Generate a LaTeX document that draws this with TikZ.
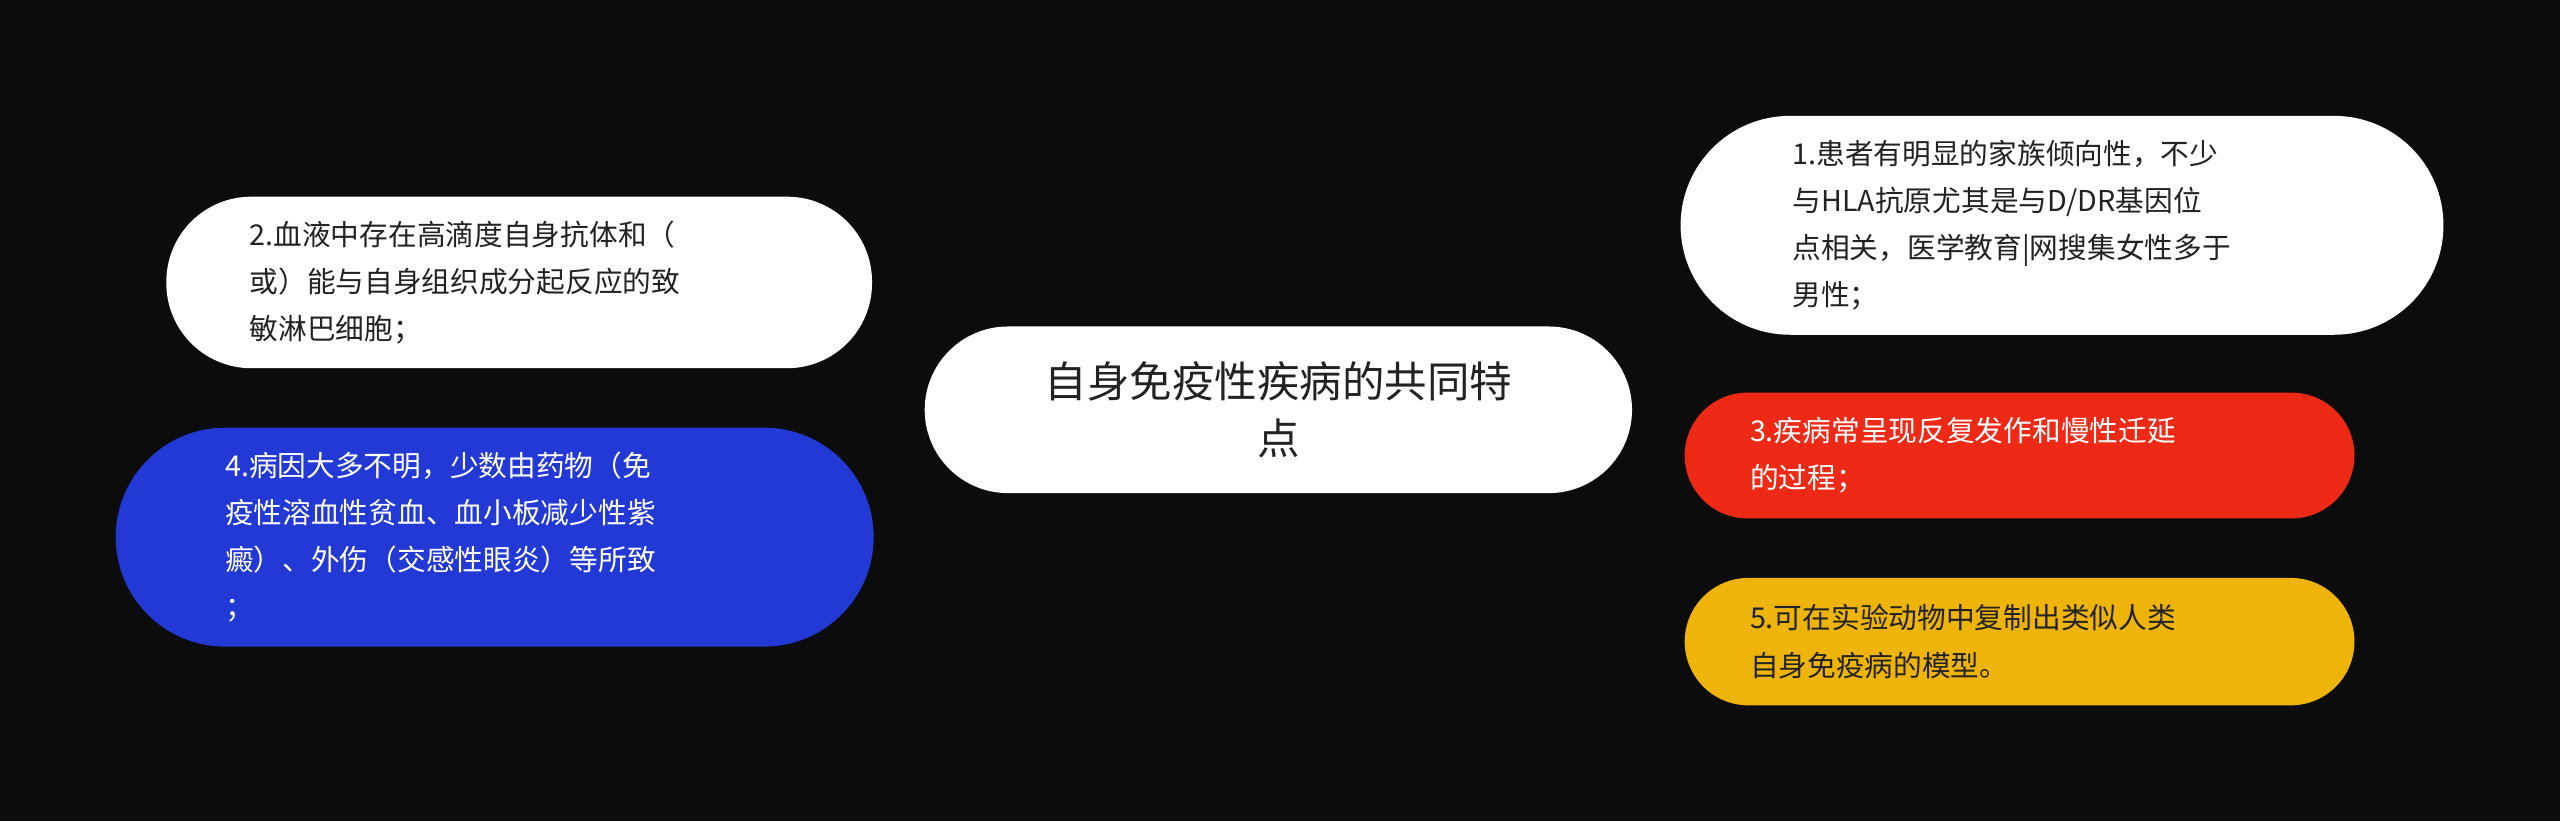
\documentclass[tikz,border=0pt]{standalone}
\usepackage{fontspec}
\newfontfamily\cjk{Noto Sans CJK SC}
\pgfdeclarelayer{bg}\pgfsetlayers{bg,main}
\definecolor{bgc}{HTML}{0C0C0C}
\definecolor{redc}{HTML}{EE2A17}
\definecolor{bluec}{HTML}{2239D6}
\definecolor{yelc}{HTML}{EEB40A}
\definecolor{txt}{HTML}{222222}
\begin{document}
\begin{tikzpicture}[x=0.01cm,y=-0.01cm,
 box/.style={rounded corners=#1, inner sep=0pt, align=left, font=\cjk\fontsize{5pt}{8.2pt}\selectfont},
 link/.style={line width=0.6pt}]
\fill[bgc] (0,0) rectangle (1568,503);
\useasboundingbox (0,0) rectangle (1568,503);
\node[box=0.51cm, fill=white, text=txt, minimum width=4.33cm, minimum height=1.02cm, text width=3.3cm, align=center, font=\cjk\fontsize{7.4pt}{9.8pt}\selectfont] (c) at (783,251) {自身免疫性疾病的共同特\\点};
\node[box=0.67cm, fill=white, text=txt, minimum width=4.67cm, minimum height=1.34cm, text width=3.3cm] (n1) at (1263,138) {1.患者有明显的家族倾向性，不少\\与HLA抗原尤其是与D/DR基因位\\点相关，医学教育|网搜集女性多于\\男性；};
\node[box=0.52cm, fill=white, text=txt, minimum width=4.32cm, minimum height=1.05cm, text width=3.3cm] (n2) at (318,173) {2.血液中存在高滴度自身抗体和（\\或）能与自身组织成分起反应的致\\敏淋巴细胞；};
\node[box=0.385cm, fill=redc, text=white, minimum width=4.1cm, minimum height=0.77cm, text width=3.3cm] (n3) at (1237,279) {3.疾病常呈现反复发作和慢性迁延\\的过程；};
\node[box=0.67cm, fill=bluec, text=white, minimum width=4.64cm, minimum height=1.34cm, text width=3.3cm] (n4) at (303,329) {4.病因大多不明，少数由药物（免\\疫性溶血性贫血、血小板减少性紫\\癜）、外伤（交感性眼炎）等所致\\；};
\node[box=0.39cm, fill=yelc, text=txt, minimum width=4.1cm, minimum height=0.78cm, text width=3.3cm] (n5) at (1237,393) {5.可在实验动物中复制出类似人类\\自身免疫病的模型。};
\begin{pgfonlayer}{bg}
\draw[link, white] ([xshift=0.17cm]c.north) .. controls (830,150) and (950,138) .. (n1.west);
\draw[link, white] (n2.east) .. controls (620,173) and (715,183) .. ([xshift=-0.38cm]c.north);
\draw[link, redc] ([yshift=-0.28cm]c.east) -- (n3.west);
\draw[link, bluec] (n4.east) .. controls (650,329) and (715,318) .. ([xshift=-0.43cm]c.south);
\draw[link, yelc] ([xshift=0.1cm]c.south) .. controls (820,360) and (870,393) .. (n5.west);
\end{pgfonlayer}
\end{tikzpicture}
\end{document}
